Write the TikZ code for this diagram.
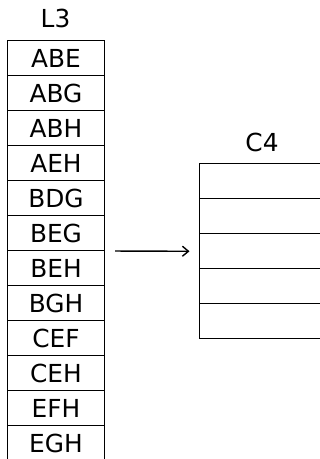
\documentclass[tikz,border=0pt]{standalone}
\usepackage{fontspec}
\setmainfont{DejaVu Sans}
\usetikzlibrary{positioning,arrows.meta}

\tikzset{
	cell/.style={draw, line width=.5pt, inner sep=0pt, anchor=north west,
		minimum height=17.5pt, font=\fontsize{12.4}{14}\selectfont},
	lcell/.style={cell, minimum width=48.5pt},
	rcell/.style={cell, minimum width=63pt},
	head/.style={font=\fontsize{12.4}{14}\selectfont},
}

\begin{document}
\begin{tikzpicture}[x=.5pt,y=-.5pt]
		\clip (0,0) rectangle (320,459);

		% left table
		\node[head] (l3) at (55.5,18.5) {L3};
		\node[lcell] (abe) at (7,40) {ABE};
		\node[lcell] (abg) at (7,75) {ABG};
		\node[lcell] (abh) at (7,110) {ABH};
		\node[lcell] (aeh) at (7,145) {AEH};
		\node[lcell] (bdg) at (7,180) {BDG};
		\node[lcell] (beg) at (7,215) {BEG};
		\node[lcell] (beh) at (7,250) {BEH};
		\node[lcell] (bgh) at (7,285) {BGH};
		\node[lcell] (cef) at (7,320) {CEF};
		\node[lcell] (ceh) at (7,355) {CEH};
		\node[lcell] (efh) at (7,390) {EFH};
		\node[lcell] (egh) at (7,425) {EGH};

		% right table, still empty
		\node[head] (c4) at (262,142) {C4};
		\node[rcell] (c4a) at (198.5,163.3) {};
		\node[rcell] (c4b) at (198.5,198.3) {};
		\node[rcell] (c4c) at (198.5,233.3) {};
		\node[rcell] (c4d) at (198.5,268.3) {};
		\node[rcell] (c4e) at (198.5,303.3) {};

		\draw[-{Straight Barb[length=3pt,width=5pt]}, line width=.7pt, shorten <=5pt, shorten >=4.5pt] (beg.south east) -- (c4c.west);
	\end{tikzpicture}
\end{document}
